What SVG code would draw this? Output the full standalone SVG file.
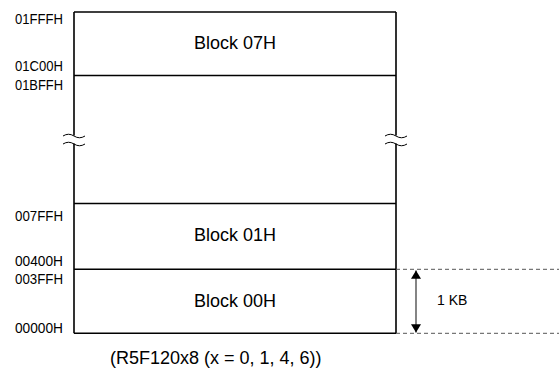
<svg xmlns="http://www.w3.org/2000/svg" width="559" height="385" viewBox="0 0 559 385">
<style>
.ln{stroke:#000;stroke-width:1.6;fill:none}
.wv{stroke:#000;stroke-width:1;fill:none}
.dash{stroke:#555;stroke-width:1;stroke-dasharray:4,3;fill:none}
.addr{font-family:"Liberation Sans",Arial,sans-serif;font-size:15px;fill:#000}
.blk{font-family:"Liberation Sans",Arial,sans-serif;font-size:18px;fill:#000;text-anchor:middle}
.cap{font-family:"Liberation Sans",Arial,sans-serif;font-size:18px;fill:#000}
.sm{font-family:"Liberation Sans",Arial,sans-serif;font-size:14px;fill:#000}
</style>
<defs>
<marker id="ah" viewBox="0 0 10 12" refX="10" refY="6" markerWidth="12" markerHeight="10" markerUnits="userSpaceOnUse" orient="auto-start-reverse">
<path d="M0,0 L10,6 L0,12 z" fill="#000"/>
</marker>
</defs>
<g id="memory-map">
<path class="ln" d="M74,12 H396 M74,75.5 H396 M74,203.5 H396 M74,269.3 H396 M74,333.3 H396"/>
<path class="ln" d="M74,12 V135.5 M74,143.5 V333.3 M396,12 V135.5 M396,143.5 V333.3"/>
<path class="wv" d="M63,136 q5.5,-3.5 11,0 t11,0 M63,144 q5.5,-3.5 11,0 t11,0"/>
<path class="wv" d="M385,136 q5.5,-3.5 11,0 t11,0 M385,144 q5.5,-3.5 11,0 t11,0"/>
</g>
<g id="block07"><text class="blk" x="235" y="49">Block 07H</text></g>
<g id="block01"><text class="blk" x="235" y="241">Block 01H</text></g>
<g id="block00"><text class="blk" x="235" y="307">Block 00H</text></g>
<g id="addresses">
<text class="addr" x="15" y="24" textLength="48" lengthAdjust="spacingAndGlyphs">01FFFH</text>
<text class="addr" x="15" y="71" textLength="48" lengthAdjust="spacingAndGlyphs">01C00H</text>
<text class="addr" x="15" y="90" textLength="48" lengthAdjust="spacingAndGlyphs">01BFFH</text>
<text class="addr" x="15" y="221" textLength="48" lengthAdjust="spacingAndGlyphs">007FFH</text>
<text class="addr" x="15" y="266" textLength="48" lengthAdjust="spacingAndGlyphs">00400H</text>
<text class="addr" x="15" y="284" textLength="48" lengthAdjust="spacingAndGlyphs">003FFH</text>
<text class="addr" x="15" y="333" textLength="48" lengthAdjust="spacingAndGlyphs">00000H</text>
</g>
<g id="connectors">
<path class="dash" d="M396,269.3 H559 M396,333.3 H559"/>
<line x1="416" y1="270.5" x2="416" y2="332.5" stroke="#333" stroke-width="1.2" marker-start="url(#ah)" marker-end="url(#ah)"/>
</g>
<g id="size-label"><text class="sm" x="437" y="305">1 KB</text></g>
<g id="caption"><text class="cap" x="110" y="364">(R5F120x8 (x = 0, 1, 4, 6))</text></g>
</svg>
